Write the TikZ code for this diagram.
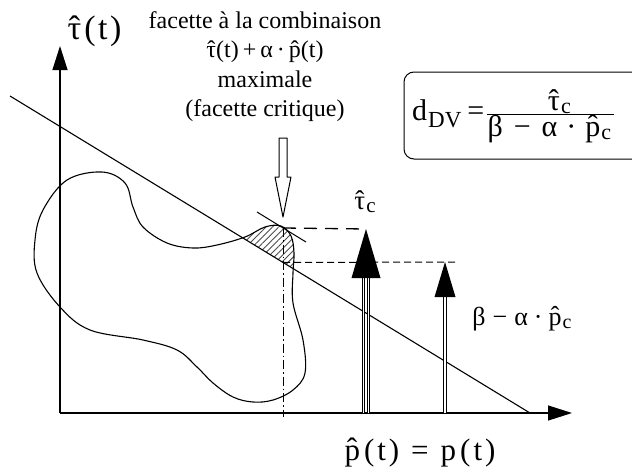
\documentclass[tikz,border=0pt]{standalone}
\usepackage{fontspec}
\setmainfont{Liberation Serif}
\usetikzlibrary{arrows.meta,patterns.meta}

% hatted letters
\newcommand\chapt{\accent"02C6 τ}
\newcommand\chapp{p̂}
% outline of the domain
\newcommand\contour{plot[smooth cycle,tension=0.6] coordinates {(102,172) (125,183) (133,207) (143,227) (167,243) (193,248) (217,245) (245,237) (265,227) (281,226) (291,236) (294,253) (293,273) (293,303) (303,340) (305,373) (293,390) (273,400) (253,402) (233,397) (213,383) (197,367) (177,350) (143,340) (90,330) (60,307) (37,273) (35,240) (43,210) (67,180)}}

\begin{document}
\begin{tikzpicture}[x=1pt,y=-1pt,line join=round,
  big/.style={font=\fontsize{31}{35}\selectfont,inner sep=0pt,anchor=base},
  dbl/.style={line width=0.8pt,double distance=1.6pt}]
  \useasboundingbox (0,0) rectangle (632,474);
  \coordinate (O) at (60,413);
  \coordinate (ytop) at (60,46);
  \coordinate (xend) at (572,413);
  \coordinate (dstart) at (10,96);
  \coordinate (dend) at (530,413);
  \coordinate (crit) at (283,228);
  \coordinate (critlow) at (283,262.5);
  \coordinate (vend) at (283,417);
  \coordinate (tanA) at (257,212);
  \coordinate (tanB) at (306,242);
  \coordinate (bigfoot) at (366,413);
  \coordinate (bigtip) at (366,229);
  \coordinate (smallfoot) at (445,413);
  \coordinate (smalltip) at (445,262);
  \coordinate (lowend) at (458,262);
  % hatched facet
  \begin{scope}
    \clip (230,150) rectangle (320,300);
    \clip (dstart) -- (620,468) -- (620,0) -- (10,0) -- cycle;
    \fill[pattern={Lines[angle=45,distance=4.5pt,line width=0.9pt]},pattern color=black!70] \contour;
  \end{scope}
  \draw[line width=1.1pt] \contour;
  % axes
  \draw[line width=1.2pt,-{Triangle[length=24pt,width=15pt]}] (O) -- (ytop);
  \draw[line width=1.2pt,-{Triangle[length=24pt,width=15pt]}] (O) -- (xend);
  \draw[line width=1.1pt] (dstart) -- (dend);
  \draw[line width=1pt] (tanA) -- (tanB);
  % guide lines
  \draw[line width=1.3pt,dash pattern=on 13pt off 8pt] (crit) -- (bigtip);
  \draw[line width=1pt,dash pattern=on 7pt off 4pt] (critlow) -- (lowend);
  \draw[line width=1pt,dash pattern=on 9pt off 3pt on 1.5pt off 3pt] (crit) -- (vend);
  % the two bars
  \draw[dbl] ([xshift=-2.6pt]bigfoot) -- ([xshift=-2.6pt]bigfoot |- 0,276);
  \draw[dbl] ([xshift=2.6pt]bigfoot) -- ([xshift=2.6pt]bigfoot |- 0,276);
  \fill (bigtip) -- ++(-14.5,49) -- ++(29,0) -- cycle;
  \draw[dbl] (smallfoot) -- (smallfoot |- 0,295);
  \fill (smalltip) -- ++(-10.5,35) -- ++(21,0) -- cycle;
  % hollow arrow
  \draw[line width=1pt,fill=white] (279,138) -- (287,138) -- (287,177) -- (291,177) -- (283,217) -- (275,177) -- (279,177) -- cycle;
  % texts
  \node[big,font=\fontsize{34}{38}\selectfont] (tauaxis) at (94.5,39) {\chapt\kern3pt(\kern2.5pt t\kern2.5pt)};
  \node[big] (pxaxis) at (420,460) {\chapp\kern4pt(\kern3pt t\kern3pt)\kern12pt=\kern12pt p\kern4pt(\kern3pt t\kern3pt)};
  \node[big,font=\fontsize{27}{30}\selectfont] (tauc) at (365,209) {\chapt\kern1pt\raisebox{-3pt}{\fontsize{21}{21}\selectfont c}};
  \node[big,font=\fontsize{26}{30}\selectfont] (betalab) at (522,325) {β\kern7pt−\kern7ptα\kern6pt·\kern6pt\chapp\kern1pt\raisebox{-3pt}{\fontsize{20}{20}\selectfont c}};
  \node[font=\fontsize{24}{29.5}\selectfont,align=center,inner sep=0pt,anchor=north] (facette) at (265,11)
    {facette à la combinaison\\ \chapt(t)\,+\,α\,·\,\chapp(t)\\ maximale\\ (facette critique)};
  % formula box
  \draw[line width=1pt,rounded corners=10pt] (404,72) rectangle (670,159);
  \node[font=\fontsize{30}{32}\selectfont,inner sep=0pt,anchor=west] (ddv) at (412,116)
    {$\hbox{d\kern1pt\raisebox{-7pt}{\fontsize{23}{23}\selectfont DV}}\kern6pt\hbox{=}\kern1pt
      \frac{\hbox{\kern18pt\chapt\kern1pt\raisebox{-3pt}{\fontsize{22}{22}\selectfont c}}}
           {\hbox{\kern1ptβ\kern11pt−\kern11ptα\kern9pt·\kern9pt\chapp\kern1pt\raisebox{-3pt}{\fontsize{22}{22}\selectfont c}\kern3pt}}$};
\end{tikzpicture}
\end{document}
